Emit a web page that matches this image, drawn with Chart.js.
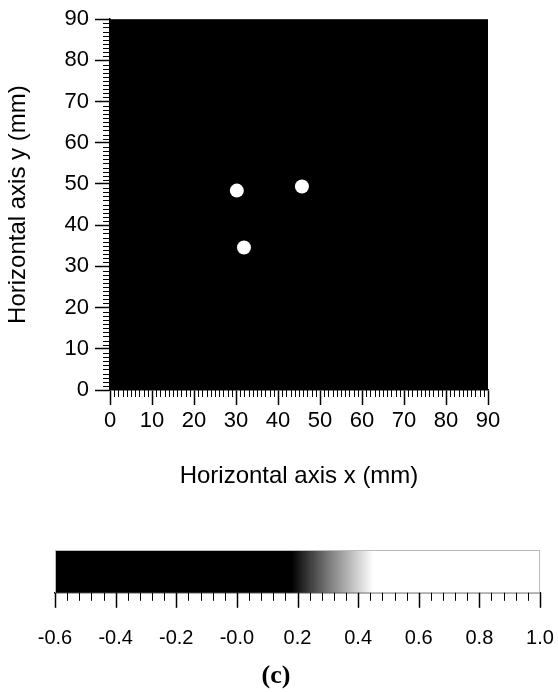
<!DOCTYPE html>
<html>
<head>
<meta charset="utf-8">
<script src="https://cdn.jsdelivr.net/npm/chart.js@4.4.1/dist/chart.umd.min.js"></script>
<style>
  body { margin: 0; background: #fff; }
  canvas { display: block; }
</style>
</head>
<body>
<canvas id="imageChart" width="558" height="500"></canvas>
<canvas id="barChart" width="558" height="192"></canvas>
<script>
// bright spots of the reconstructed image, in mm
var spotX = [30.2, 31.9, 45.7];
var spotY = [48.4, 34.6, 49.4];

// labelled ticks of both image axes
var axisTicks = [0, 10, 20, 30, 40, 50, 60, 70, 80, 90];

// grey scale bar
var barRange = [-0.6, 1.0];
var barLabels = ['-0.6', '-0.4', '-0.2', '-0.0', '0.2', '0.4', '0.6', '0.8', '1.0'];
var grayStops = [-0.6, 0.18, 0.3, 0.45, 1.0];
var grayLevels = [0, 0, 120, 255, 255];

var sansFont = 'Liberation Sans, Arial, sans-serif';

function tickRange(from, step, count) {
	var list = [];
	for (var i = 0; i <= count; i++) {
		list.push({ value: from + i * step });
	}
	return list;
}

function isAxisMajor(v) {
	return axisTicks.indexOf(v) >= 0;
}

function isBarMajor(v) {
	var k = (v - barRange[0]) / 0.2;
	return Math.abs(k - Math.round(k)) < 1e-6;
}

// tick marks drawn through the scales; majorLen 0 leaves majors to the grid
function tickMarks(ids, majorLen, minorLen, isMajor) {
	return {
		id: 'tickMarks',
		afterDraw: function(chart) {
			var ctx = chart.ctx;
			ctx.save();
			ctx.strokeStyle = '#000';
			ids.forEach(function(id) {
				var scale = chart.scales[id];
				scale.ticks.forEach(function(t) {
					var major = isMajor(t.value);
					var len = major ? majorLen : minorLen;
					if (!len) return;
					var p = Math.round(scale.getPixelForValue(t.value)) + 0.5;
					ctx.lineWidth = major ? 1.5 : 1;
					ctx.beginPath();
					if (scale.isHorizontal()) {
						ctx.moveTo(p, scale.top);
						ctx.lineTo(p, scale.top + len);
					} else {
						ctx.moveTo(scale.right, p);
						ctx.lineTo(scale.right - len, p);
					}
					ctx.stroke();
				});
			});
			ctx.restore();
		}
	};
}

var blackField = {
	id: 'blackField',
	beforeDraw: function(chart) {
		var a = chart.chartArea;
		chart.ctx.save();
		chart.ctx.fillStyle = '#000';
		chart.ctx.fillRect(a.left, a.top, a.right - a.left, a.bottom - a.top);
		chart.ctx.restore();
	}
};

function imageAxis(horizontal) {
	return {
		type: 'linear',
		min: 0,
		max: 90,
		afterBuildTicks: function(scale) {
			scale.ticks = tickRange(0, 1, 90);
		},
		afterFit: function(scale) {
			if (horizontal) scale.height = 110;
			else scale.width = 110;
		},
		ticks: {
			autoSkip: false,
			maxRotation: 0,
			padding: horizontal ? 3 : 6,
			color: '#000',
			font: { family: sansFont, size: 22 },
			callback: function(v) {
				return isAxisMajor(v) ? String(v) : '';
			}
		},
		grid: {
			drawOnChartArea: false,
			tickLength: 15,
			tickWidth: 1.5,
			tickColor: function(c) {
				return c.tick && isAxisMajor(c.tick.value) ? '#000' : 'rgba(0,0,0,0)';
			}
		},
		border: { color: '#000', width: 1.5 },
		title: {
			display: true,
			text: horizontal ? 'Horizontal axis x (mm)' : 'Horizontal axis y (mm)',
			color: '#000',
			font: { family: sansFont, size: 24 },
			padding: horizontal ? { top: 0, bottom: 9 } : { top: 4, bottom: 0 }
		}
	};
}

var points = spotX.map(function(x, i) {
	return { x: x, y: spotY[i] };
});

new Chart(document.getElementById('imageChart'), {
	type: 'scatter',
	data: {
		datasets: [{
			data: points,
			pointRadius: 7,
			pointBackgroundColor: '#fff',
			pointBorderWidth: 0
		}]
	},
	options: {
		responsive: false,
		animation: false,
		layout: { padding: { top: 18, right: 70, left: 0, bottom: 0 } },
		plugins: { legend: { display: false }, tooltip: { enabled: false } },
		scales: {
			x: imageAxis(true),
			y: imageAxis(false)
		}
	},
	plugins: [blackField, tickMarks(['x', 'y'], 0, 7, isAxisMajor)]
});

function grayFill(c) {
	var chart = c.chart;
	var xs = chart.scales.x;
	if (!chart.chartArea || !xs) return '#000';
	var x0 = xs.getPixelForValue(barRange[0]);
	var x1 = xs.getPixelForValue(barRange[1]);
	var g = chart.ctx.createLinearGradient(x0, 0, x1, 0);
	grayStops.forEach(function(v, i) {
		var l = grayLevels[i];
		g.addColorStop((v - barRange[0]) / (barRange[1] - barRange[0]), 'rgb(' + l + ',' + l + ',' + l + ')');
	});
	return g;
}

var barEdge = {
	id: 'barEdge',
	afterDatasetsDraw: function(chart) {
		var a = chart.chartArea;
		var ctx = chart.ctx;
		ctx.save();
		ctx.strokeStyle = '#bbb';
		ctx.lineWidth = 1;
		ctx.strokeRect(a.left + 0.5, a.top + 0.5, a.right - a.left - 1, a.bottom - a.top);
		ctx.restore();
	}
};

new Chart(document.getElementById('barChart'), {
	type: 'bar',
	data: {
		labels: [''],
		datasets: [{
			data: [barRange],
			backgroundColor: grayFill,
			borderWidth: 0,
			barPercentage: 1,
			categoryPercentage: 1
		}]
	},
	options: {
		indexAxis: 'y',
		responsive: false,
		animation: false,
		layout: { padding: { top: 50, left: 12, right: 18, bottom: 0 } },
		plugins: {
			legend: { display: false },
			tooltip: { enabled: false },
			title: {
				display: true,
				position: 'bottom',
				text: '(c)',
				color: '#000',
				font: { family: 'Liberation Serif, serif', size: 26, weight: 'bold' },
				padding: { top: 0, bottom: 0 }
			}
		},
		scales: {
			x: {
				type: 'linear',
				min: barRange[0],
				max: barRange[1],
				afterBuildTicks: function(scale) {
					scale.ticks = tickRange(barRange[0], 0.04, 40);
				},
				afterFit: function(scale) {
					scale.height = 68;
				},
				ticks: {
					autoSkip: false,
					maxRotation: 0,
					padding: 3,
					color: '#000',
					font: { family: sansFont, size: 20 },
					callback: function(v, i) {
						return i % 5 === 0 ? barLabels[i / 5] : '';
					}
				},
				// long invisible grid ticks only push the labels down
				grid: {
					drawOnChartArea: false,
					tickLength: 31,
					tickColor: 'rgba(0,0,0,0)'
				},
				border: { color: '#000', width: 1.5 }
			},
			// kept only to hold the left margin of the bar
			y: {
				display: true,
				afterFit: function(scale) {
					scale.width = 43;
				},
				ticks: { display: false },
				grid: { display: false },
				border: { display: false }
			}
		}
	},
	plugins: [barEdge, tickMarks(['x'], 15, 8, isBarMajor)]
});
</script>
</body>
</html>
